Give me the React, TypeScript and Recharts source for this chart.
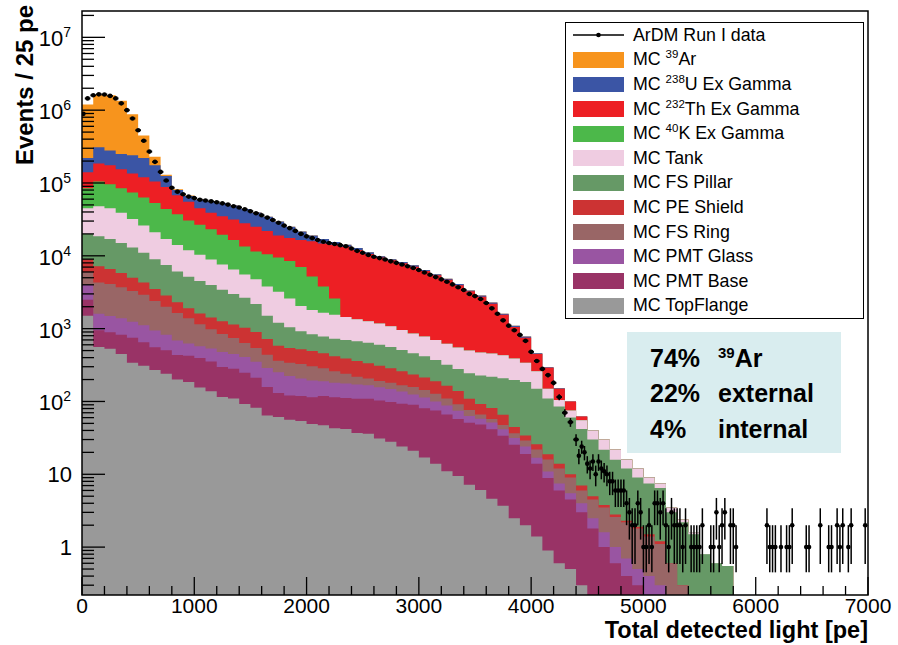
import React from "react";
import {
  ComposedChart,
  Area,
  Scatter,
  ErrorBar,
  XAxis,
  YAxis,
  Legend,
  ReferenceArea,
} from "recharts";

const FONT = "'Liberation Sans', Arial, Helvetica, sans-serif";

const Y_MIN = 0.22;
const Y_MAX = 2.3e7;
const PLOT_LEFT = 82;
const PLOT_BOTTOM = 595;

// MC histograms, 100 pe wide bins starting at 0, in events / 25 pe
const binStarts = Array.from({ length: 70 }, (_, i) => i * 100);

const topFlange = [1500, 560, 530, 450, 340, 310, 270, 240, 200, 185, 155, 138, 115, 110, 92, 82, 64, 61, 56, 54, 49, 47, 43, 42, 37, 36, 31, 28, 24, 21, 17, 14, 11, 9.5, 7.2, 6.1, 4.6, 3.7, 2.5, 2, 1.4, 0.9, 0.6, 0.5, 0.3];
const pmtBase = [1000, 390, 360, 375, 410, 340, 285, 265, 235, 240, 240, 215, 182, 172, 155, 130, 94, 70, 65, 65, 65, 72, 71, 70, 72, 73, 72, 70, 69, 69, 64, 61, 55, 48, 44, 42, 37, 30, 23, 17, 12.5, 8, 5.4, 4, 2.7, 1.8, 1, 0.6, 0.4, 0.3, 0.2];
const pmtGlass = [1500, 650, 600, 560, 490, 460, 390, 320, 250, 200, 180, 180, 180, 165, 160, 140, 130, 120, 103, 87, 80, 70, 67, 64, 62, 58, 54, 50, 44, 35, 32, 25, 22, 17, 12, 10, 10, 8, 6, 5, 3, 2, 1.5, 1, 1, 0.7, 0.6, 0.4, 0.3, 0.2, 0.2, 0.3];
const fsRing = [2000, 2700, 2600, 2320, 2050, 1800, 1450, 1180, 960, 760, 570, 450, 370, 295, 230, 190, 150, 110, 115, 120, 110, 97, 78, 64, 48, 39, 34, 32, 30, 33, 31, 28, 22, 17, 13, 8, 6, 6, 5, 5, 5, 5, 4.5, 3.5, 2, 2, 1.9, 1.6, 1.5, 1.3, 1.0, 0.8, 0.6, 0.3];
const peShield = [3000, 2900, 2500, 2100, 1700, 1400, 1100, 850, 650, 520, 470, 440, 420, 400, 390, 360, 280, 220, 205, 195, 190, 175, 160, 150, 140, 130, 118, 105, 92, 77, 70, 62, 55, 48, 33, 26, 24, 18, 8, 5, 4, 3, 2, 1, 1, 0.5, 0.3, 0.2, 0.1, 0.1, 0.1, 0.1];
const fsPillar = [11000, 11300, 10400, 9200, 8000, 6700, 5500, 4600, 3800, 3250, 2900, 2550, 2150, 1850, 1620, 1280, 780, 620, 505, 400, 345, 320, 310, 310, 310, 305, 290, 275, 250, 225, 205, 180, 155, 140, 135, 136, 136, 142, 153, 151, 124, 91, 71, 50, 35, 25, 18, 13, 9.7, 7.1, 6, 5.3, 2.4, 1.9, 1.5, 0.8, 0.6, 0.55];
const tank = [25000, 29500, 28000, 24000, 19000, 15000, 12000, 9600, 8000, 6800, 5800, 4900, 4200, 3500, 2900, 2600, 2300, 2000, 1550, 1130, 960, 870, 820, 750, 680, 620, 580, 520, 450, 400, 360, 330, 300, 270, 255, 242, 237, 222, 192, 155, 110, 40, 20, 15, 13, 10, 8, 6, 4, 3, 1.5, 1, 0.5, 0.2, 0.1];
const k40 = [40000, 57000, 51000, 46000, 42000, 37000, 32000, 27000, 23000, 18700, 16300, 14200, 11900, 10000, 7900, 6700, 6700, 6300, 5900, 4950, 3400, 2150, 1050];
const th232 = [55000, 80000, 79000, 70000, 61000, 57000, 52000, 44000, 31000, 24500, 18500, 16000, 15500, 15000, 14500, 13500, 11500, 9500, 9000, 9500, 10600, 11000, 11600, 11850, 10650, 9340, 8320, 7620, 6940, 6240, 5420, 4700, 4080, 3400, 2750, 2280, 1745, 1120, 660, 410, 190, 140, 45, 25, 7];
const u238 = [80000, 125000, 105000, 95000, 105000, 100000, 70000, 37000, 12000, 11000, 14000, 17000, 18000, 17500, 16000, 14500, 12500, 10500, 7500, 5000, 3200, 2200, 1300, 900, 800, 600, 400, 300, 300, 300, 200, 200, 150, 150, 100, 100, 80, 50, 50, 30, 10, 5, 2];
const ar39 = [980000, 1310000, 1320000, 1100000, 640000, 230000, 55000, 5000, 2000, 1000, 500, 300, 100];

// ArDM Run I data, bin centres [pe] and counts / 25 pe
const dataPe = [12.5, ...Array.from({ length: 88 }, (_, i) => 50 + i * 50)];
const dataCounts = [
  890000, 1450000, 1600000, 1650000, 1640000, 1570000, 1450000, 1240000, 1000000, 770000,
  530000, 380000, 270000, 195000, 142000, 108000, 86000, 76000, 70000, 65000,
  62000, 59000, 57500, 56000, 54500, 52500, 50500, 48000, 46000, 43500,
  41000, 38500, 36000, 33500, 31000, 28500, 26000, 24000, 22000, 20000,
  18500, 17500, 16500, 15600, 15000, 14500, 14000, 13500, 12600, 11700,
  11000, 10300, 9700, 9300, 8900, 8400, 8000, 7600, 7200, 6800,
  6400, 5900, 5500, 5100, 4750, 4400, 4050, 3700, 3400, 3000,
  2800, 2550, 2250, 1900, 1600, 1300, 1100, 950, 820, 680,
  480, 360, 280, 230, 180, 115, 70, 52, 30,
];
const tailPe = [
  4425, 4450, 4475, 4500, 4525, 4550, 4575, 4600, 4625, 4650, 4675, 4700, 4725, 4750, 4775, 4800,
  4825, 4850, 4875, 4900, 4925, 4950, 4975, 5000, 5025, 5050, 5075, 5100, 5125, 5150, 5175, 5200,
  5225, 5250, 5275, 5300, 5325, 5350, 5375, 5425, 5450, 5475, 5500, 5525, 5600, 5625, 5650, 5675,
  5700, 5725, 5775, 5800, 5825, 6100, 6125, 6150, 6175, 6225, 6275, 6300, 6325, 6450, 6475, 6575,
  6650, 6675, 6725, 6750, 6775, 6825, 6850, 6975,
];
const tailCounts = [
  18, 24, 20, 14, 12, 15, 10, 15, 12, 11, 10, 8, 8, 6, 6, 6,
  6, 4, 3, 2, 2, 4, 3, 1, 1, 2, 1, 4, 4, 3, 4, 2,
  1, 3, 2, 2, 2, 1, 2, 1, 1, 1, 1, 2, 1, 1, 3, 1,
  2, 3, 2, 2, 1, 2, 1, 1, 1, 1, 1, 1, 2, 1, 1, 2,
  1, 1, 2, 1, 2, 1, 2, 2,
];

const xTicks = Array.from({ length: 36 }, (_, i) => i * 200);
const yTicks: number[] = [];
for (let d = -1; d <= 7; d++) {
  for (let k = 1; k <= 9; k++) {
    const v = k * Math.pow(10, d);
    if (v >= Y_MIN && v <= Y_MAX) yTicks.push(v);
  }
}

// stacking order, bottom to top
const components = [
  { key: "topFlange", label: ["MC TopFlange"], color: "#999999", values: topFlange },
  { key: "pmtBase", label: ["MC PMT Base"], color: "#993366", values: pmtBase },
  { key: "pmtGlass", label: ["MC PMT Glass"], color: "#9955a2", values: pmtGlass },
  { key: "fsRing", label: ["MC FS Ring"], color: "#996666", values: fsRing },
  { key: "peShield", label: ["MC PE Shield"], color: "#cc3333", values: peShield },
  { key: "fsPillar", label: ["MC FS Pillar"], color: "#669966", values: fsPillar },
  { key: "tank", label: ["MC Tank"], color: "#efcce1", values: tank },
  { key: "k40", label: ["MC ", "40", "K Ex Gamma"], color: "#4cb84a", values: k40 },
  { key: "th232", label: ["MC ", "232", "Th Ex Gamma"], color: "#ed1f24", values: th232 },
  { key: "u238", label: ["MC ", "238", "U Ex Gamma"], color: "#3b55a5", values: u238 },
  { key: "ar39", label: ["MC ", "39", "Ar"], color: "#f7941d", values: ar39 },
];

const mcRows = [...binStarts, 7000].map((pe, i) => {
  const j = Math.min(i, binStarts.length - 1);
  const row: Record<string, number> = { pe };
  let sum = 0;
  components.forEach((c) => {
    sum += c.values[j] ?? 0;
    row[c.key] = sum > 0 ? sum : 1e-3;
  });
  return row;
});

const dataPoints = [
  ...dataPe.map((pe, i) => ({ pe, count: dataCounts[i], ex: i === 0 ? 12.5 : 25 })),
  ...tailPe.map((pe, i) => ({ pe, count: tailCounts[i], ex: 12.5 })),
].map((p) => {
  const s = Math.sqrt(p.count);
  return { ...p, ey: [Math.min(s, p.count - 0.45), s] };
});

const YTick = (props: any) => {
  const { y, payload } = props;
  const v = payload.value;
  const exp = Math.round(Math.log10(v));
  const major = Math.abs(v - Math.pow(10, exp)) < 1e-6 * v;
  return (
    <g>
      <line x1={PLOT_LEFT} x2={PLOT_LEFT + (major ? 23 : 12)} y1={y} y2={y} stroke="#000" strokeWidth={1.3} />
      {major && exp <= 1 && (
        <text x={72} y={y + 8} textAnchor="end" fontSize={22} fontFamily={FONT} fill="#000">
          {exp === 0 ? "1" : "10"}
        </text>
      )}
      {major && exp > 1 && (
        <text x={71} y={y + 9} textAnchor="end" fontSize={22} fontFamily={FONT} fill="#000">
          10<tspan fontSize={14} dy={-9}>{exp}</tspan>
        </text>
      )}
    </g>
  );
};

const XTick = (props: any) => {
  const { x, payload } = props;
  const major = payload.value % 1000 === 0;
  return (
    <g>
      <line x1={x} x2={x} y1={PLOT_BOTTOM} y2={PLOT_BOTTOM - (major ? 18 : 9)} stroke="#000" strokeWidth={1.3} />
      {major && (
        <text x={x} y={613} textAnchor="middle" fontSize={21} fontFamily={FONT} fill="#000">
          {payload.value}
        </text>
      )}
    </g>
  );
};

const XTitle = () => (
  <text x={868} y={638} textAnchor="end" fontSize={23.5} fontWeight="bold" fontFamily={FONT} fill="#000">
    Total detected light [pe]
  </text>
);

const YTitle = () => (
  <text transform="translate(33, 5) rotate(-90)" textAnchor="end" fontSize={24} fontWeight="bold" fontFamily={FONT} fill="#000">
    Events / 25 pe
  </text>
);

const DataDot = (props: any) => <circle cx={props.cx} cy={props.cy} r={2.3} fill="#000" />;

const LegendLabel = ({ parts }: { parts: string[] }) => (
  <span>
    {parts[0]}
    {parts.length > 1 && (
      <span style={{ fontSize: 11.5, position: "relative", top: -7 }}>{parts[1]}</span>
    )}
    {parts[2]}
  </span>
);

const renderLegend = () => (
  <div
    style={{
      width: 297,
      border: "1.5px solid #000",
      background: "#fff",
      fontFamily: FONT,
      fontSize: 17.8,
      color: "#000",
    }}
  >
    <div style={{ display: "flex", alignItems: "center", height: 24.6 }}>
      <svg width={51} height={16} style={{ marginLeft: 7 }}>
        <line x1={0} x2={51} y1={8} y2={8} stroke="#000" strokeWidth={1.5} />
        <circle cx={25.5} cy={8} r={2.3} fill="#000" />
      </svg>
      <span style={{ marginLeft: 9 }}>ArDM Run I data</span>
    </div>
    {[...components].reverse().map((c) => (
      <div key={c.key} style={{ display: "flex", alignItems: "center", height: 24.6 }}>
        <span style={{ display: "inline-block", width: 51, height: 15.7, marginLeft: 7, background: c.color }} />
        <span style={{ marginLeft: 9, whiteSpace: "nowrap" }}>
          <LegendLabel parts={c.label} />
        </span>
      </div>
    ))}
  </div>
);

const boxRows = [
  { pct: "74%", what: ["", "39", "Ar"] },
  { pct: "22%", what: ["external"] },
  { pct: "4%", what: ["internal"] },
];

export default function App() {
  return (
    <div style={{ position: "absolute", left: 0, top: 0, width: 898, height: 645, background: "#fff", fontFamily: FONT }}>
      <ComposedChart width={898} height={645} data={mcRows} margin={{ top: 11, right: 30, bottom: 0, left: 0 }}>
        {[...components].reverse().map((c) => (
          <Area
            key={c.key}
            dataKey={c.key}
            type="stepAfter"
            fill={c.color}
            fillOpacity={1}
            stroke="none"
            baseValue={Y_MIN}
            dot={false}
            activeDot={false}
            isAnimationActive={false}
          />
        ))}
        <Scatter data={dataPoints} dataKey="count" fill="#000" shape={DataDot} isAnimationActive={false}>
          <ErrorBar dataKey="ey" direction="y" width={0} stroke="#000" strokeWidth={1.5} isAnimationActive={false} />
          <ErrorBar dataKey="ex" direction="x" width={0} stroke="#000" strokeWidth={2} isAnimationActive={false} />
        </Scatter>
        <XAxis
          type="number"
          dataKey="pe"
          domain={[0, 7000]}
          allowDataOverflow
          ticks={xTicks}
          interval={0}
          tick={<XTick />}
          tickLine={false}
          axisLine={false}
          height={50}
          label={<XTitle />}
        />
        <YAxis
          type="number"
          scale="log"
          domain={[Y_MIN, Y_MAX]}
          allowDataOverflow
          ticks={yTicks}
          interval={0}
          tick={<YTick />}
          tickLine={false}
          axisLine={false}
          width={82}
          label={<YTitle />}
        />
        <ReferenceArea x1={0} x2={7000} y1={Y_MIN} y2={Y_MAX} fill="none" stroke="#000" strokeWidth={1.5} ifOverflow="visible" />
        <Legend
          layout="vertical"
          align="center"
          verticalAlign="middle"
          content={renderLegend}
          wrapperStyle={{ left: 565, top: 22, width: 297 }}
        />
      </ComposedChart>
      <div style={{ position: "absolute", left: 627, top: 332, width: 214, height: 121, background: "#d9edef" }}>
        {boxRows.map((r, i) => (
          <div key={r.pct} style={{ position: "absolute", top: 13.8 + i * 35.5, left: 0, width: 214, height: 25, lineHeight: "25px", fontSize: 25, fontWeight: "bold", color: "#000", whiteSpace: "nowrap" }}>
            <span style={{ position: "absolute", left: 23 }}>{r.pct}</span>
            <span style={{ position: "absolute", left: 91 }}>
              {r.what.length > 1 ? (
                <>
                  <span style={{ fontSize: 15, position: "relative", top: -9 }}>{r.what[1]}</span>
                  {r.what[2]}
                </>
              ) : (
                r.what[0]
              )}
            </span>
          </div>
        ))}
      </div>
    </div>
  );
}
